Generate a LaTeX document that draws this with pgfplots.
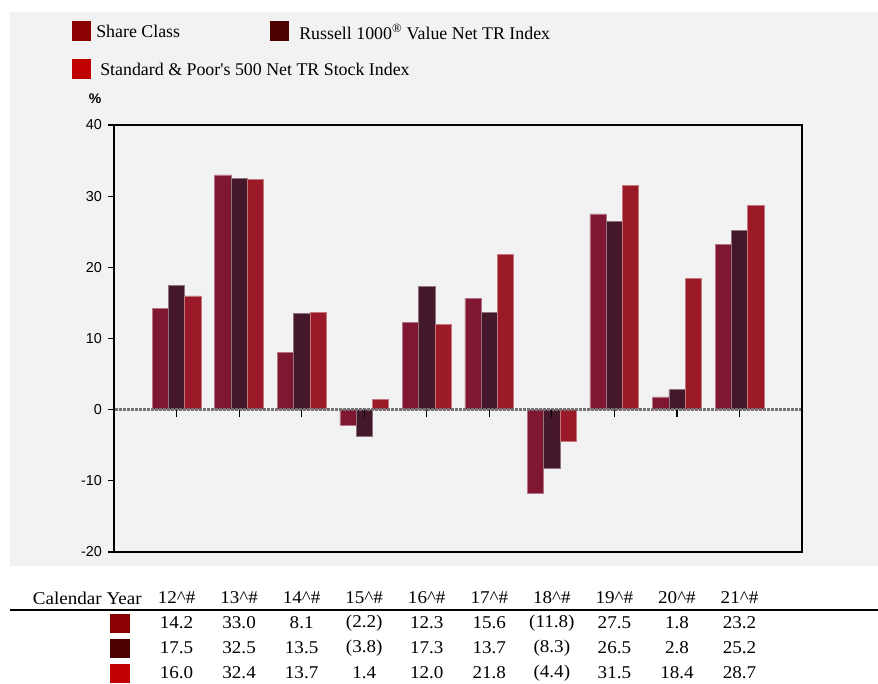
\documentclass[border=0pt]{standalone}
\usepackage{fontspec}
\setmainfont{Liberation Serif}
\setsansfont{Liberation Sans}
\usepackage{pgfplots}
\usepackage{pgfplotstable}
\pgfplotsset{compat=1.18}

\definecolor{panel}{HTML}{F2F2F2}
\definecolor{barA}{HTML}{801732}
\definecolor{barB}{HTML}{44182A}
\definecolor{barC}{HTML}{9A1B27}
\definecolor{keyA}{HTML}{8B0000}
\definecolor{keyB}{HTML}{4D0000}
\definecolor{keyC}{HTML}{C00000}

% calendar returns, years 2012..2021 at x = 0..9
\pgfplotstableread{
x share russell sp
0 14.2 17.5 16.0
1 33.0 32.5 32.4
2 8.1 13.5 13.7
3 -2.2 -3.8 1.4
4 12.3 17.3 12.0
5 15.6 13.7 21.8
6 -11.8 -8.3 -4.4
7 27.5 26.5 31.5
8 1.8 2.8 18.4
9 23.2 25.2 28.7
}\returns

\begin{document}
\begin{tikzpicture}
\begin{scope}[x=0.75pt,y=-0.75pt]
  \useasboundingbox (0,0) rectangle (878,683);
  \fill[panel] (10,12) rectangle (878,566);
  % legend
  \fill[keyA] (72,21) rectangle (91,41);
  \node[anchor=west,inner sep=0pt,font=\fontsize{13.4}{15}\selectfont] at (96,31.5) {Share Class};
  \fill[keyB] (270,21) rectangle (289,41);
  \node[anchor=west,inner sep=0pt,font=\fontsize{13.4}{15}\selectfont] at (299,31.5) {Russell 1000\textsuperscript{\textregistered} Value Net TR Index};
  \fill[keyC] (72,59) rectangle (91,79);
  \node[anchor=west,inner sep=0pt,font=\fontsize{13.4}{15}\selectfont] at (100,69.5) {Standard \& Poor\textquotesingle s 500 Net TR Stock Index};
  \node[inner sep=0pt,font=\sffamily\bfseries\fontsize{10.5}{12}\selectfont] at (95,99) {\%};
  % table below the chart
  \tikzset{cell/.style={inner sep=0pt,font=\fontsize{13.5}{15}\selectfont,xscale=1.06}}
  \node[cell,anchor=east] at (142,598) {Calendar Year};
  \draw[line width=1.5pt] (10,610) -- (878,610);
  \fill[keyA] (110,614) rectangle (130,633);
  \fill[keyB] (110,639) rectangle (130,658);
  \fill[keyC] (110,664) rectangle (130,683);
  \foreach \lab [count=\i from 0] in {12,13,14,15,16,17,18,19,20,21}
    \node[cell] at ({114+62.55*(\i+1)},598) {\lab\textasciicircum\#};
  \foreach \v [count=\i from 0] in {14.2,33.0,8.1,(2.2),12.3,15.6,(11.8),27.5,1.8,23.2}
    \node[cell] at ({114+62.55*(\i+1)},623) {\v};
  \foreach \v [count=\i from 0] in {17.5,32.5,13.5,(3.8),17.3,13.7,(8.3),26.5,2.8,25.2}
    \node[cell] at ({114+62.55*(\i+1)},648) {\v};
  \foreach \v [count=\i from 0] in {16.0,32.4,13.7,1.4,12.0,21.8,(4.4),31.5,18.4,28.7}
    \node[cell] at ({114+62.55*(\i+1)},673) {\v};
\end{scope}

\begin{axis}[
  at={(85.5pt,-414pt)}, anchor=south west,
  width=516pt, height=320.25pt, scale only axis,
  xmin=-1, xmax=10, ymin=-20, ymax=40,
  xtick=\empty,
  ytick={-20,-10,0,10,20,30,40},
  yticklabels={-20,-10,0,10,20,30,40},
  ytick pos=left, tick align=outside,
  major tick length=4.5pt,
  tick style={black, line width=0.8pt},
  yticklabel style={font=\sffamily\fontsize{10.8}{12}\selectfont, xshift=-1pt},
  axis line style={line width=1.5pt},
  axis background/.style={fill=panel},
  ybar=0pt, bar width=0.26,
]
\addplot[fill=barA, draw=barA!60!white, line width=0.4pt] table[x=x, y=share] {\returns};
\addplot[fill=barB, draw=barB!60!white, line width=0.4pt] table[x=x, y=russell] {\returns};
\addplot[fill=barC, draw=barC!60!white, line width=0.4pt] table[x=x, y=sp] {\returns};
\end{axis}

\begin{scope}[x=0.75pt,y=-0.75pt]
  % dotted zero line and category ticks
  \draw[black!55, line width=2.4pt, dash pattern=on 2pt off 1pt] (115,409.3) -- (801,409.3);
  \foreach \i in {0,...,9}
    \draw[black, line width=0.9pt] ({114+62.55*(\i+1)},410) -- ++(0,7);
\end{scope}
\end{tikzpicture}
\end{document}
